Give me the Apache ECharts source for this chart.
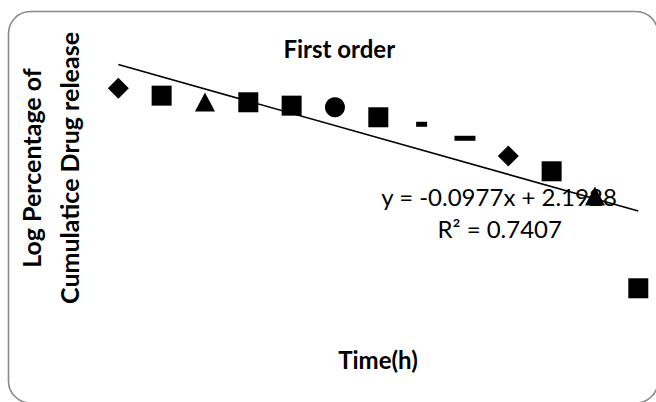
<!DOCTYPE html>
<html>
<head>
<meta charset="utf-8">
<title>First order</title>
<script src="https://cdn.jsdelivr.net/npm/echarts@6/dist/echarts.min.js"></script>
<style>
  html, body { margin: 0; padding: 0; background: #fff; }
  #chart { width: 656px; height: 402px; }
</style>
</head>
<body>
<div id="chart"></div>
<script>
// Sampling points (index used by the fitted line) and log cumulative release
const timePoints = [1, 2, 3, 4, 5, 6, 7, 8, 9, 10, 11, 12, 13];
const logRelease = [1.905, 1.846, 1.795, 1.793, 1.766, 1.753, 1.673, 1.617, 1.505, 1.363, 1.241, 1.043, 0.305];

// Linear fit reported on the chart
const fitSlope = -0.0977;
const fitIntercept = 2.1928;
const fitR2 = 0.7407;

// Text
const chartTitle = 'First order';
const xTitle = 'Time(h)';
const yTitleLines = ['Log Percentage of', 'Cumulatice Drug release'];

// Marker shape for each point (in order)
const markerShapes = ['diamond', 'rect', 'triangle', 'rect', 'rect', 'circle', 'rect', 'dashS', 'dashL', 'diamond', 'rect', 'triangle', 'rect'];
const markerStyle = {
  diamond: { symbol: 'diamond', size: [21, 21] },
  rect: { symbol: 'rect', size: [20, 20] },
  triangle: { symbol: 'triangle', size: [20, 19] },
  circle: { symbol: 'circle', size: [20, 20] },
  dashS: { symbol: 'rect', size: [11, 5] },
  dashL: { symbol: 'rect', size: [21, 5] }
};

const points = timePoints.map((t, i) => {
  const m = markerStyle[markerShapes[i]];
  return { value: [t, logRelease[i]], symbol: m.symbol, symbolSize: m.size };
});

const xFirst = timePoints[0];
const xLast = timePoints[timePoints.length - 1];
const fitLine = [
  [xFirst, fitIntercept + fitSlope * xFirst],
  [xLast, fitIntercept + fitSlope * xLast]
];

const fmt = (v, d) => v.toFixed(d);
const eqText = 'y = ' + fmt(fitSlope, 4) + 'x + ' + fmt(fitIntercept, 4);
const r2Text = 'R\u00B2 = ' + fmt(fitR2, 4);

const chart = echarts.init(document.getElementById('chart'), null, { renderer: 'svg' });

const boldFont = { fontFamily: 'Lato', fontWeight: 'bold', fill: '#000' };

chart.setOption({
  backgroundColor: '#fff',
  animation: false,
  grid: { left: 118.3, right: 17.7, top: 13.9, bottom: 75.6, containLabel: false },
  xAxis: {
    type: 'value', min: xFirst, max: xLast,
    show: false
  },
  yAxis: {
    type: 'value', min: 0, max: 2.5,
    show: false
  },
  series: [
    {
      type: 'line',
      data: fitLine,
      showSymbol: false,
      symbol: 'none',
      lineStyle: { color: '#000', width: 1.6 },
      silent: true,
      z: 3
    },
    {
      type: 'scatter',
      data: points,
      clip: false,
      itemStyle: { color: '#000', opacity: 1 },
      z: 2
    }
  ],
  graphic: [
    {
      // chart area frame with rounded corners
      type: 'rect', z: 0,
      shape: { x: 8.5, y: 11.5, width: 649.5, height: 391.5, r: 22 },
      style: { fill: 'none', stroke: '#8a8a8a', lineWidth: 1.6 }
    },
    {
      type: 'text', z: 10, x: 339.3, y: 48.5,
      style: Object.assign({ text: chartTitle, fontSize: 24, align: 'center', verticalAlign: 'middle' }, boldFont)
    },
    {
      type: 'text', z: 10, x: 378, y: 359.2,
      style: Object.assign({ text: xTitle, fontSize: 24, align: 'center', verticalAlign: 'middle' }, boldFont)
    },
    {
      type: 'text', z: 10, x: 31, y: 168, rotation: Math.PI / 2,
      style: Object.assign({ text: yTitleLines[0], fontSize: 25, align: 'center', verticalAlign: 'middle' }, boldFont)
    },
    {
      type: 'text', z: 10, x: 68.5, y: 168, rotation: Math.PI / 2,
      style: Object.assign({ text: yTitleLines[1], fontSize: 25, align: 'center', verticalAlign: 'middle' }, boldFont)
    },
    {
      type: 'text', z: 10, x: 499, y: 196,
      style: { text: eqText, fontFamily: 'Lato', fontSize: 24, fill: '#000', align: 'center', verticalAlign: 'middle' }
    },
    {
      type: 'text', z: 10, x: 499.7, y: 228,
      style: { text: r2Text, fontFamily: 'Lato', fontSize: 24, fill: '#000', align: 'center', verticalAlign: 'middle' }
    }
  ]
});
</script>
</body>
</html>
